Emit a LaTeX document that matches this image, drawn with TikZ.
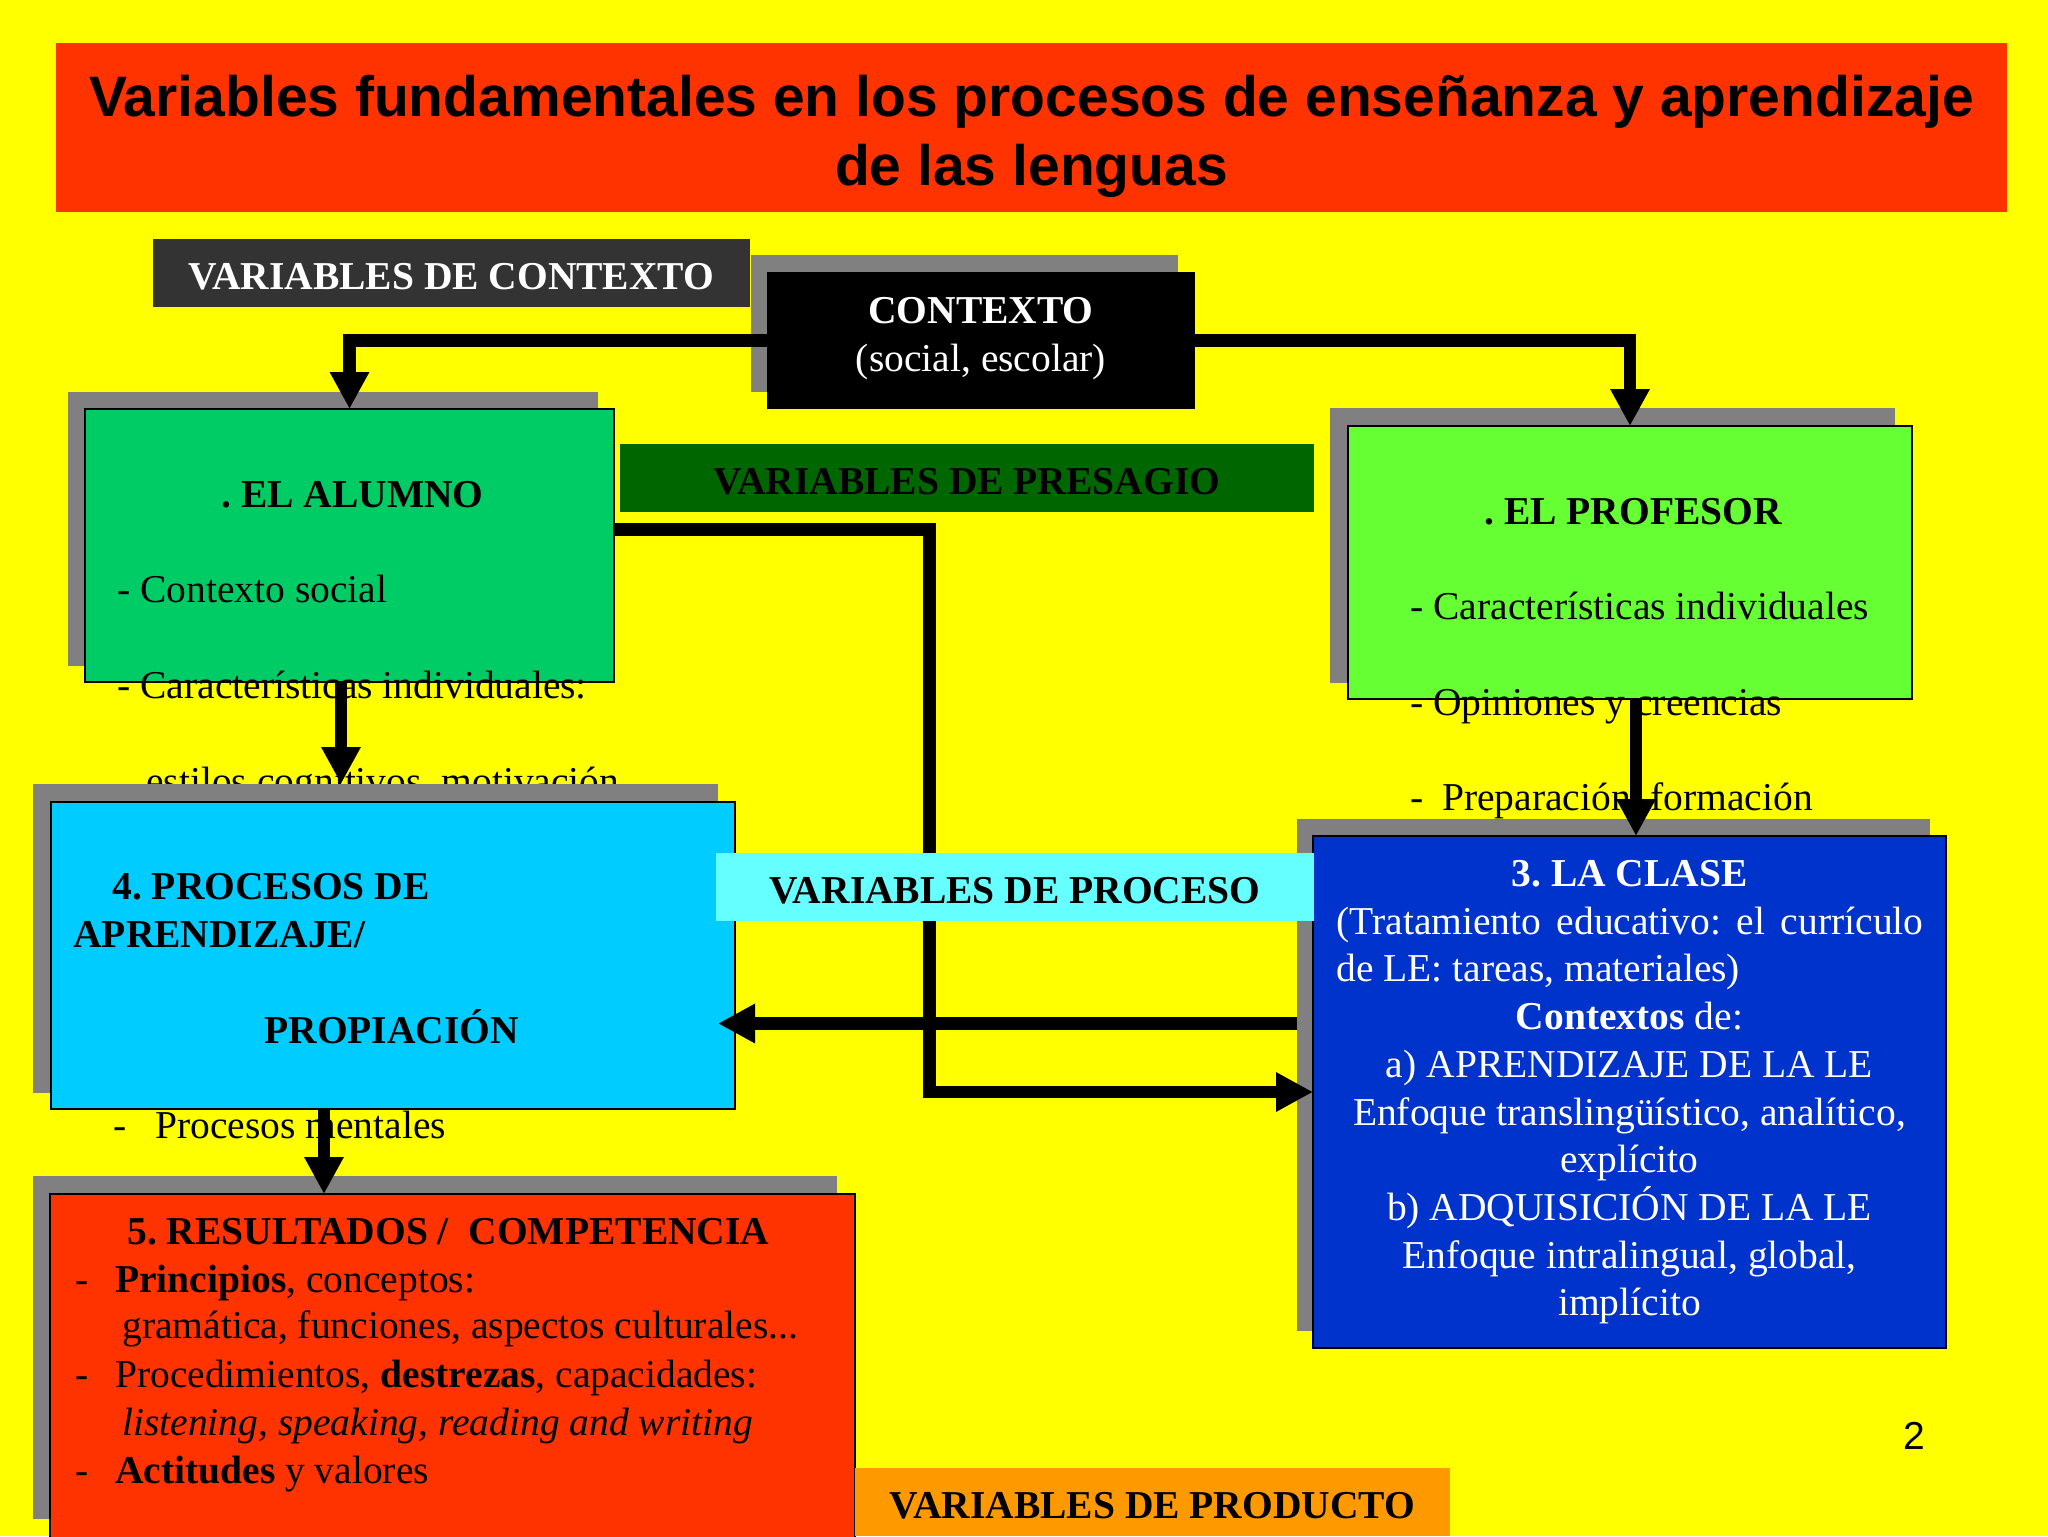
\documentclass[tikz,border=0pt]{standalone}
\usepackage{fontspec}
\setmainfont{Liberation Serif}
\newfontfamily\sansf{Liberation Sans}
\usetikzlibrary{arrows.meta}
\definecolor{bgY}{HTML}{FFFF00}
\definecolor{titred}{HTML}{FF3300}
\definecolor{darkgr}{HTML}{333333}
\definecolor{shadowgray}{HTML}{808080}
\definecolor{alumnoC}{HTML}{00CC66}
\definecolor{presagC}{HTML}{006600}
\definecolor{profC}{HTML}{66FF33}
\definecolor{procC}{HTML}{00CCFF}
\definecolor{procesoC}{HTML}{66FFFF}
\definecolor{claseC}{HTML}{0033CC}
\definecolor{prodC}{HTML}{FF9900}
\newcommand\bodyf{\fontsize{19.75pt}{23.85pt}\selectfont}
\newcommand\titf{\sansf\bfseries\fontsize{28.5pt}{34pt}\selectfont}
\frenchspacing
\tikzset{
  pbox/.style={inner sep=0pt, outer sep=0pt, anchor=north west},
  shad/.style={pbox, fill=shadowgray},
  mbox/.style={pbox, draw=black, line width=1pt},
  lbl/.style={pbox, font=\bodyf\bfseries, text height=16.5pt, text depth=0pt},
  txt/.style={inner sep=0pt, anchor=base west, font=\bodyf},
  ctxt/.style={inner sep=0pt, anchor=base, font=\bodyf, text=white},
  arr/.style={line width=6.25pt, -{Triangle[length=18.5pt,width=18.5pt]}},
}
\begin{document}
\begin{tikzpicture}[x=0.5pt,y=-0.5pt]
\useasboundingbox (0,0) rectangle (2048,1536);
\fill[bgY] (0,0) rectangle (2048,1536);

% title
\node[pbox, fill=titred, minimum width=975.5pt, minimum height=84.5pt] (title) at (56,43) {};
\node[inner sep=0pt, anchor=base, font=\titf] (tl1) at (1031.5,117) {Variables fundamentales en los procesos de enseñanza y aprendizaje};
\node[inner sep=0pt, anchor=base, font=\titf] (tl2) at (1031.5,185) {de las lenguas};

% variables de contexto
\node[lbl, fill=darkgr, text=white, minimum width=298.5pt, minimum height=34pt] (vctx) at (153,239) {VARIABLES DE CONTEXTO};

% contexto shadow
\node[shad, minimum width=213.5pt, minimum height=68.5pt] (ctxsh) at (751,255) {};

% alumno
\node[shad, minimum width=265pt, minimum height=137pt] (alsh) at (68,392) {};
\node[mbox, fill=alumnoC, minimum width=264.5pt, minimum height=136.5pt] (al) at (85,409) {};
\node[txt, font=\bodyf\bfseries] (al1) at (221,507) {. EL ALUMNO};
\node[txt] (al2) at (117,602) {- Contexto social};
\node[txt] (al3) at (117,698) {- Características individuales:};
\node[txt] (al4) at (146,794) {estilos cognitivos, motivación};

% profesor
\node[shad, minimum width=282.5pt, minimum height=137.5pt] (prsh) at (1330,408) {};
\node[mbox, fill=profC, minimum width=282pt, minimum height=136.5pt] (pr) at (1348,426) {};
\node[txt, font=\bodyf\bfseries] (pr1) at (1484,524) {. EL PROFESOR};
\node[txt] (pr2) at (1410,619) {- Características individuales};
\node[txt] (pr3) at (1410,715) {- Opiniones y creencias};
\node[txt] (pr4) at (1410,810) {-\hspace{9.3pt}Preparación, formación};

% contexto and its arrows
\node[pbox, fill=black, minimum width=214pt, minimum height=68.5pt] (ctx) at (767,272) {};
\draw[arr] (ctx.west) -| (al.north);
\draw[arr] (ctx.east) -| (pr.north);
\node[ctxt, font=\bodyf\bfseries] (ctx1) at (981,323) {CONTEXTO};
\node[ctxt] (ctx2) at (981,371) {(social, escolar)};

% presagio
\node[lbl, fill=presagC, minimum width=347pt, minimum height=34pt] (pres) at (620,444) {VARIABLES DE PRESAGIO};

% procesos
\node[shad, minimum width=342.5pt, minimum height=154.5pt] (pcsh) at (33,784) {};
\node[mbox, fill=procC, minimum width=342pt, minimum height=153.5pt] (pc) at (51,802) {};
\node[txt, font=\bodyf\bfseries] (pc1) at (112,899) {4. PROCESOS DE};
\node[txt, font=\bodyf\bfseries] (pc2) at (73,947) {APRENDIZAJE/};
\node[txt, font=\bodyf\bfseries] (pc3) at (264,1043) {PROPIACIÓN};
\node[txt] (pc4) at (113,1138) {-\hspace{14.35pt}Procesos mentales};

% la clase
\node[shad, minimum width=316.5pt, minimum height=256pt] (clsh) at (1297,819) {};
\node[mbox, fill=claseC, minimum width=316.5pt, minimum height=256pt] (cl) at (1313,836) {};
\node[ctxt, font=\bodyf\bfseries] (cl1) at (1629.5,886) {3. LA CLASE};
\node[txt, text=white] (cl2) at (1336,934) {\makebox[293.5pt][s]{(Tratamiento educativo: el currículo}};
\node[txt, text=white] (cl3) at (1336,981) {de LE: tareas, materiales)};
\node[ctxt] (cl4) at (1629.5,1029) {\textbf{Contextos} de:};
\node[ctxt] (cl5) at (1629.5,1077) {a) APRENDIZAJE DE LA LE};
\node[ctxt] (cl6) at (1629.5,1125) {Enfoque translingüístico, analítico,};
\node[ctxt] (cl7) at (1629.5,1172) {explícito};
\node[ctxt] (cl8) at (1629.5,1220) {b) ADQUISICIÓN DE LA LE};
\node[ctxt] (cl9) at (1629.5,1268) {Enfoque intralingual, global,};
\node[ctxt] (cl10) at (1629.5,1315) {implícito};

% resultados
\node[shad, minimum width=402pt, minimum height=171.5pt] (resh) at (33,1176) {};
\node[mbox, fill=titred, minimum width=402.5pt, minimum height=175pt] (re) at (50,1194) {};
\node[txt, font=\bodyf\bfseries] (re1) at (127,1244) {5. RESULTADOS /\ \ COMPETENCIA};
\node[txt] (re2) at (75,1292) {-\hspace{13.35pt}\textbf{Principios}, conceptos:};
\node[txt] (re3) at (122,1338) {gramática, funciones, aspectos culturales...};
\node[txt] (re4) at (75,1387) {-\hspace{13.35pt}Procedimientos, \textbf{destrezas}, capacidades:};
\node[txt] (re5) at (122,1435) {\textit{listening, speaking, reading and writing}};
\node[txt] (re6) at (75,1483) {-\hspace{13.35pt}\textbf{Actitudes} y valores};

% connectors
\coordinate (a3) at ([xshift=-4.25pt]al.south);
\draw[arr] (a3) -- (a3 |- pcsh.north);
\coordinate (a4) at ([xshift=3pt]pr.south);
\draw[arr] (a4) -- (a4 |- cl.north);
\coordinate (a5) at ([xshift=-34.5pt]pc.south);
\draw[arr] (a5) -- (a5 |- re.north);
\coordinate (a6) at ([yshift=25.75pt]clsh.west);
\draw[arr] (a6) -- (a6 -| pcsh.east);
\coordinate (a7) at ([yshift=8pt]al.east);
\coordinate (k7) at (929.5,1092);
\draw[arr] (a7) -| (k7) -- (k7 -| cl.west);

% labels on top
\node[lbl, fill=procesoC, minimum width=299pt, minimum height=34pt] (proc) at (716,853) {VARIABLES DE PROCESO};
\node[lbl, fill=prodC, minimum width=297.5pt, minimum height=34pt] (prod) at (855,1468) {VARIABLES DE PRODUCTO};
\node[inner sep=0pt, anchor=base, font=\sansf\fontsize{19.5pt}{23pt}\selectfont] (pg) at (1914.5,1449) {2};
\end{tikzpicture}
\end{document}
